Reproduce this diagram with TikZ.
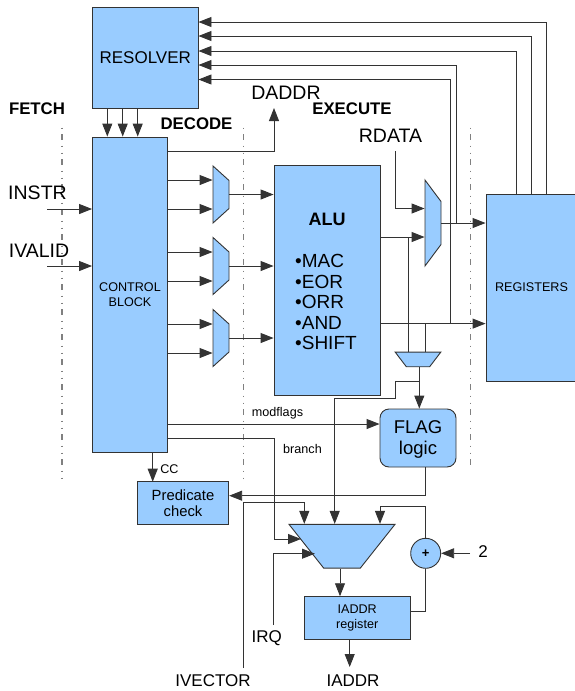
\documentclass[tikz,border=0pt]{standalone}
\usepackage{fontspec}
\setmainfont{Liberation Sans}
\usetikzlibrary{arrows.meta,shapes.geometric}
\definecolor{boxblue}{HTML}{99CCFF}
\definecolor{wire}{HTML}{333333}
\tikzset{
    block/.style={draw=wire, fill=boxblue, line width=0.9pt, inner sep=0pt, align=center},
    muxshape/.style n args={3}{draw=wire, fill=boxblue, line width=0.9pt, trapezium, inner sep=0pt, trapezium angle=#3, text width=#1, text height=#2, text depth=0pt},
    sig/.style={draw=wire, line width=0.9pt, -{Triangle[length=13pt,width=10pt]}},
    wirepath/.style={draw=wire, line width=0.9pt},
    stage/.style={draw=gray, line width=1.2pt, dash pattern=on 6pt off 5.5pt on 1pt off 6pt on 1pt off 5.5pt, dash phase=13pt},
    big/.style={font=\fontsize{19.5}{22}\selectfont},
    mid/.style={font=\fontsize{17}{20}\selectfont},
    small/.style={font=\fontsize{12.6}{15}\selectfont},
    head/.style={font=\fontsize{16.8}{20}\bfseries\selectfont}
}
\begin{document}
\begin{tikzpicture}[x=1pt,y=-1pt]
        \useasboundingbox (0,0) rectangle (575,691);
        % pipeline stages
        \foreach \x/\y in {62/478,243.7/478,470.7/465}
        {
            \path[stage](\x,122)to(\x,\y);
        }
        % blocks
        \node[block, mid, minimum width=105.5pt, minimum height=100.5pt](resolver)at(145.25,57.75){RESOLVER};
        \node[block, small, minimum width=75pt, minimum height=315.5pt](control)at(130,294.75){};
        \node[small, align=center](controltext)at(130,295){CONTROL\\BLOCK};
        \node[block, minimum width=106pt, minimum height=230pt](alu)at(327,280){};
        \node[font=\fontsize{18}{20}\bfseries\selectfont](alutitle)at(327,219){ALU};
        \node[anchor=west, inner sep=0pt, align=left, font=\fontsize{19}{20.5}\selectfont](alulist)at(295,302){•MAC\\•EOR\\•ORR\\•AND\\•SHIFT};
        \node[block, small, minimum width=91pt, minimum height=187pt](registers)at(531.5,287.5){REGISTERS};
        \node[block, rounded corners=9pt, minimum width=76pt, minimum height=58pt](flag)at(418,438){};
        \node[align=center, font=\fontsize{18.5}{21.5}\selectfont](flagtext)at(418,439.5){FLAG\\logic};
        \node[block, font=\fontsize{14.8}{16}\selectfont, minimum width=91.4pt, minimum height=42.6pt](predicate)at(183,503){Predicate\\check};
        \node[block, small, minimum width=105.7pt, minimum height=42.6pt](iaddrreg)at(357.2,618){IADDR\\register};
        \node[block, circle, minimum size=30pt, font=\fontsize{13}{15}\bfseries\selectfont](adder)at(425.7,553.3){+};
        % muxes
        \node[muxshape={28pt}{16pt}{47.8}, rotate=-90](muxa)at(221,194.5){};
        \node[muxshape={28pt}{16pt}{47.8}, rotate=-90](muxb)at(221,266){};
        \node[muxshape={28pt}{16pt}{47.8}, rotate=-90](muxc)at(221,338){};
        \node[muxshape={43pt}{16pt}{36.7}, rotate=-90](muxd)at(433,223){};
        \node[muxshape={23.3pt}{14.7pt}{52.7}, rotate=180](muxe)at(418,359.4){};
        \node[muxshape={36.7pt}{43.7pt}{51.6}, rotate=180](muxpc)at(342,546.2){};
        % labels
        \node[head](fetch)at(37,109){FETCH};
        \node[head](decode)at(196.5,124){DECODE};
        \node[head](execute)at(352,109){EXECUTE};
        \node[big](instr)at(37.5,193){INSTR};
        \node[big](ivalid)at(39,251){IVALID};
        \node[big](daddr)at(286,93){DADDR};
        \node[big](rdata)at(390.5,136){RDATA};
        \node[small](modflags)at(277.5,413){modflags};
        \node[small](branch)at(302.5,449){branch};
        \node[small](cc)at(169.5,469){CC};
        \node[mid](irq)at(266.7,637.7){IRQ};
        \node[mid](ivector)at(213,681){IVECTOR};
        \node[mid](iaddr)at(353,681){IADDR};
        \node[mid](two)at(483,552){2};
        % free ends
        \coordinate(instrin)at(47,209);
        \coordinate(ivalidin)at(47,266);
        \coordinate(rdatain)at(395,151);
        \coordinate(irqin)at(273.7,625);
        \coordinate(ivectorin)at(243.7,668);
        \coordinate(twoin)at(470,553.3);
        \coordinate(iaddrout)at(349.7,667);
        \coordinate(branchtip)at(301,539);
        \coordinate(irqtip)at(315,553.7);
        % resolver and registers
        \foreach \x in {107.3,122.7,137.7}
        {
            \path[sig](resolver.south -| \x,0)to(control.north -| \x,0);
        }
        \foreach \x/\y in {516.7/51,531.7/36,546.7/22}
        {
            \path[sig](registers.north -| \x,0)|-(resolver.east |- 0,\y);
        }
        \path[sig](456,223)|-(resolver.east |- 0,65);
        \path[sig](450,323.6)|-(resolver.east |- 0,79.5);
        % control block outputs
        \path[sig](control.east |- 0,151)-|(274,108);
        \foreach \m/\a/\b in {muxa/180/209,muxb/252/281,muxc/324/353}
        {
            \path[sig](control.east |- 0,\a)to(\m.south |- 0,\a);
            \path[sig](control.east |- 0,\b)to(\m.south |- 0,\b);
            \path[sig](\m.north)to(alu.west |- \m.north);
        }
        \path[sig](instrin)to(control.west |- instrin);
        \path[sig](ivalidin)to(control.west |- ivalidin);
        \path[sig](control.east |- 0,424)to(flag.west |- 0,424);
        \path[sig](control.east |- 0,438.3)-|(274,539)to(branchtip);
        \path[sig](152.7,452.5)to(152.7,481.7);
        % execute stage
        \path[sig](rdatain)|-(muxd.south |- 0,208.5);
        \path[sig](alu.east |- 0,237)to(muxd.south |- 0,237);
        \path[sig](muxd.north)to(registers.west |- muxd.north);
        \path[sig](alu.east |- 0,323.6)to(registers.west |- 0,323.6);
        \path[wirepath](408.7,237)to(408.7,0 |- muxe.south);
        \path[wirepath](425.3,323.6)to(425.3,0 |- muxe.south);
        \path[sig](muxe.north -| 419.3,0)to(flag.north -| 419.3,0);
        \path[sig](419.3,381)-|(395,398)-|(334.7,0 |- muxpc.south);
        \path[sig](flag.south -| adder.center)|-(predicate.east |- 0,495.7);
        % next address
        \path[sig](ivectorin)|-(304.3,502)to(304.3,0 |- muxpc.south);
        \path[sig](irqin)|-(irqtip);
        \path[sig](adder.north)|-(380,506)to(380,0 |- muxpc.south);
        \path[sig](twoin)to(adder.east);
        \path[wirepath](adder.south)|-(iaddrreg.east |- 0,611);
        \path[sig](muxpc.north -| 340,0)to(iaddrreg.north -| 340,0);
        \path[sig](iaddrreg.south -| iaddrout)to(iaddrout);
    \end{tikzpicture}
\end{document}
